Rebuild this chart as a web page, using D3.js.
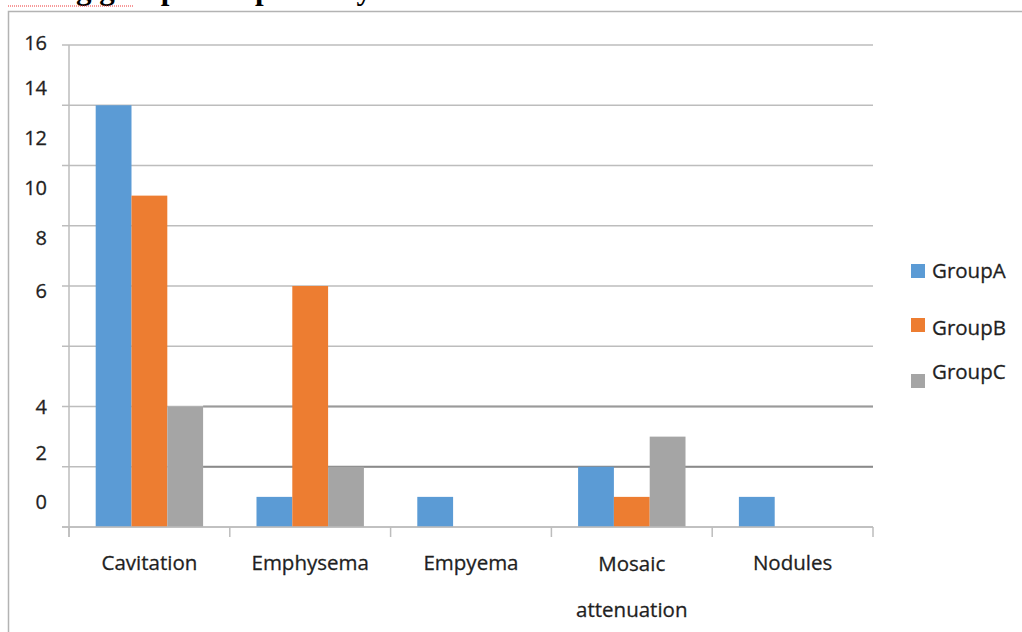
<!DOCTYPE html>
<html>
<head>
<meta charset="utf-8">
<script src="https://cdn.jsdelivr.net/npm/d3@7"></script>
<style>
  html, body { margin: 0; padding: 0; background: #fff; }
  svg { display: block; }
</style>
</head>
<body>
<svg id="chart" width="1022" height="632"></svg>
<script>
// Findings per category for each group
const categories = ["Cavitation", "Emphysema", "Empyema", "Mosaic attenuation", "Nodules"];
const groups = ["GroupA", "GroupB", "GroupC"];
const groupA = [14, 1, 1, 2, 1];
const groupB = [11, 8, 0, 1, 0];
const groupC = [4, 2, 0, 3, 0];
const colors = ["#5B9BD5", "#ED7D31", "#A5A5A5"];

// Gridline values and the labels printed on the value axis
const gridValues = [0, 2, 4, 6, 8, 10, 12, 14, 16];
const tickLabels = ["16", "14", "12", "10", "8", "6", "4", "2", "0"];
// value at which each printed label sits
const tickLabelAt = [16.07, 14.57, 12.91, 11.25, 9.59, 7.83, 3.98, 2.46, 0.83];
// heavier reference lines and their shades
const heavyLines = [4, 2];
const heavyShades = ["#9a9a9a", "#8a8a8a"];

const series = [groupA, groupB, groupC];

const svg = d3.select("#chart");
const W = 1022, H = 632;
const plot = { left: 69, right: 873, top: 45, bottom: 527 };

// Caption fragment above the chart frame
svg.append("text")
  .attr("x", 2).attr("y", -1)
  .attr("font-family", "Liberation Serif, 'Times New Roman', serif")
  .attr("font-weight", "bold")
  .attr("font-size", 31)
  .attr("fill", "#000")
  .text("among group C respectively.");
svg.append("line")
  .attr("x1", 8).attr("x2", 133).attr("y1", 6).attr("y2", 6)
  .attr("stroke", "#e33").attr("stroke-width", 1)
  .attr("stroke-dasharray", "1,1");

// Chart frame
svg.append("path")
  .attr("d", `M8.5,${H} V11.5 H${W}`)
  .attr("fill", "none").attr("stroke", "#b3b3b3").attr("stroke-width", 1.5);

const x = d3.scaleBand().domain(categories).range([plot.left, plot.right]).padding(0);
const y = d3.scaleLinear().domain([0, 16]).range([plot.bottom, plot.top]);
const inner = d3.scaleBand().domain(groups)
  .range([x.bandwidth() * 0.166, x.bandwidth() * 0.834]).padding(0);

// Horizontal gridlines
svg.append("g").selectAll("line").data(gridValues).join("line")
  .attr("x1", plot.left - 7).attr("x2", plot.right)
  .attr("y1", d => y(d)).attr("y2", d => y(d))
  .attr("stroke", "#bdbdbd").attr("stroke-width", 1.5);

// Value axis line
svg.append("line")
  .attr("x1", plot.left).attr("x2", plot.left)
  .attr("y1", y(16)).attr("y2", plot.bottom + 10)
  .attr("stroke", "#bdbdbd").attr("stroke-width", 1.5);

// Heavier lines starting after the first category's bars
const heavyStart = x(categories[0]) + inner.range()[1];
svg.append("g").selectAll("line").data(heavyLines).join("line")
  .attr("x1", heavyStart).attr("x2", plot.right)
  .attr("y1", d => y(d)).attr("y2", d => y(d))
  .attr("stroke", (d, i) => heavyShades[i]).attr("stroke-width", 2);

// Bars
const bars = svg.append("g");
categories.forEach((c, i) => {
  groups.forEach((g, j) => {
    const v = series[j][i];
    if (v <= 0) return;
    bars.append("rect")
      .attr("x", x(c) + inner(g))
      .attr("y", y(v))
      .attr("width", inner.bandwidth())
      .attr("height", y(0) - y(v))
      .attr("fill", colors[j]);
  });
});

// Category axis
svg.append("line")
  .attr("x1", plot.left - 7).attr("x2", plot.right)
  .attr("y1", plot.bottom).attr("y2", plot.bottom)
  .attr("stroke", "#bdbdbd").attr("stroke-width", 1.5);
const bounds = categories.map(c => x(c)).concat([plot.right]);
svg.append("g").selectAll("line").data(bounds).join("line")
  .attr("x1", d => d).attr("x2", d => d)
  .attr("y1", plot.bottom).attr("y2", plot.bottom + 10)
  .attr("stroke", "#bdbdbd").attr("stroke-width", 1.5);

const font = "'Open Sans', sans-serif";
const ink = "#1f1f1f";
const labels = svg.append("g")
  .attr("font-family", font).attr("font-size", 20.5).attr("fill", ink)
  .attr("stroke", ink).attr("stroke-width", 0.3);
categories.forEach(c => {
  const cx = x(c) + x.bandwidth() / 2;
  const words = c === "Mosaic attenuation" ? ["Mosaic", "attenuation"] : [c];
  words.forEach((w, k) => {
    labels.append("text")
      .attr("x", cx).attr("y", (words.length > 1 ? 571 : 570) + k * 46)
      .attr("text-anchor", "middle").text(w);
  });
});

// Value labels
svg.append("g").attr("font-family", font).attr("font-size", 20).attr("fill", ink)
  .attr("stroke", ink).attr("stroke-width", 0.3)
  .selectAll("text").data(tickLabels).join("text")
  .attr("x", 47).attr("y", (d, i) => y(tickLabelAt[i]))
  .attr("dy", "0.35em").attr("text-anchor", "end").text(d => d);

// Legend
const legendY = [271, 328, 372];
const legendBox = [271, 325, 381];
const legend = svg.append("g").attr("font-family", font).attr("font-size", 20.5).attr("fill", ink)
  .attr("stroke", ink).attr("stroke-width", 0.3);
groups.forEach((g, j) => {
  legend.append("rect").attr("x", 911).attr("y", legendBox[j] - 7)
    .attr("width", 14).attr("height", 14).attr("fill", colors[j]).attr("stroke", "none");
  legend.append("text").attr("x", 932).attr("y", legendY[j]).attr("dy", "0.35em").text(g);
});
</script>
</body>
</html>
